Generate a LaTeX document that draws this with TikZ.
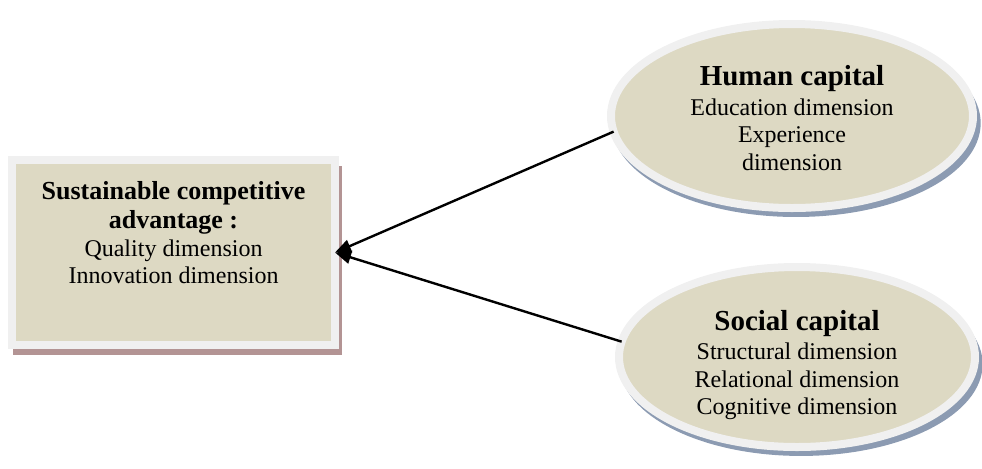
\documentclass[tikz,border=0pt]{standalone}
\usepackage{fontspec}
\setmainfont{Liberation Serif}
\usetikzlibrary{arrows.meta,shapes.geometric,shadows}

\definecolor{tanfill}{HTML}{DDD9C3}
\definecolor{ringgray}{HTML}{F0F0F0}
\definecolor{boxshadow}{HTML}{B39494}
\definecolor{ellshadow}{HTML}{8C9BB2}

\begin{document}
\begin{tikzpicture}[x=0.5pt, y=-0.5pt,
    capbox/.style={rectangle, draw=ringgray, line width=4pt, fill=tanfill,
        minimum width=161.5pt, minimum height=92.5pt, inner sep=0pt, outer sep=0pt,
        drop shadow={shadow xshift=2pt, shadow yshift=-4pt, shadow scale=1.02,
        fill=boxshadow, opacity=1}},
    capell/.style={ellipse, draw=ringgray, line width=4pt, fill=tanfill,
        inner sep=0pt, outer sep=0pt,
        drop shadow={shadow xshift=2pt, shadow yshift=-3.5pt, shadow scale=1.02,
        fill=ellshadow, opacity=1}},
    txt/.style={align=center, font=\fontsize{12}{13.8}\selectfont},
    link/.style={-{Triangle[length=8pt,width=6.5pt]}, line width=1.2pt}]

    \useasboundingbox (0,0) rectangle (982,468);

    % 1. Caja de la ventaja competitiva
    \node[capbox] (sca) at (173.5,252.5) {};
    \node[txt] (sca-t) at ([yshift=10pt]sca.center)
        {{\fontsize{13}{15}\bfseries Sustainable competitive}\\[1pt]
         {\fontsize{13}{15}\bfseries advantage :}\\
         Quality dimension\\
         Innovation dimension};

    % 2. Elipse del capital humano
    \node[capell, minimum width=181pt, minimum height=92pt] (hc) at (792,116) {};
    \node[txt] (hc-t) at ([yshift=-1pt]hc.center)
        {{\fontsize{14.5}{16}\bfseries Human capital}\\[1pt]
         Education dimension\\
         Experience\\
         dimension};

    % 3. Elipse del capital social
    \node[capell, minimum width=178pt, minimum height=90pt] (sc) at (797,357) {};
    \node[txt] (sc-t) at ([yshift=-4pt]sc.center)
        {{\fontsize{14.5}{16}\bfseries Social capital}\\[1pt]
         Structural dimension\\
         Relational dimension\\
         Cognitive dimension};

    % 4. Flechas hacia la caja
    \draw[link] (hc.185) -- (sca.east);
    \draw[link] (sc.175) -- (sca.east);

\end{tikzpicture}
\end{document}
